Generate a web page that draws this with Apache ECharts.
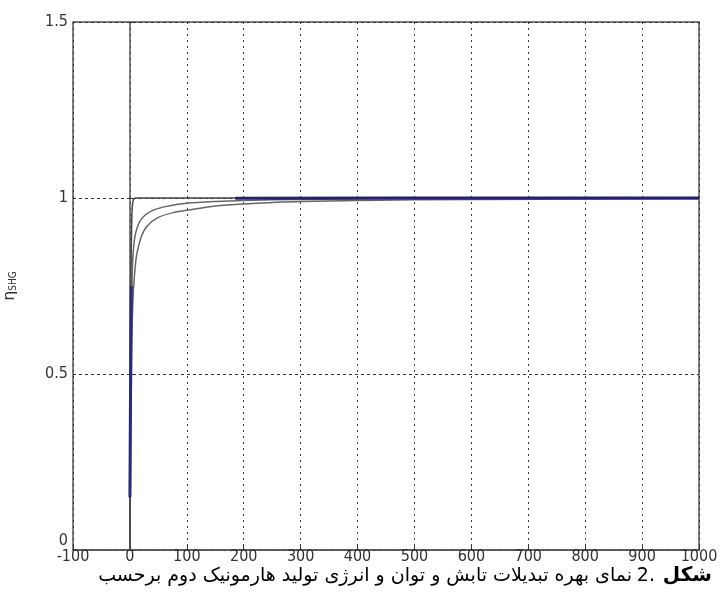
<!DOCTYPE html>
<html>
<head>
<meta charset="utf-8">
<script src="https://cdn.jsdelivr.net/npm/echarts@6/dist/echarts.min.js"></script>
<style>html,body{margin:0;padding:0;background:#fff;}#c{width:720px;height:596px;}</style>
</head>
<body>
<div id="c"></div>
<script>
// Tick labels
const xTicks = [-100, 0, 100, 200, 300, 400, 500, 600, 700, 800, 900, 1000];
const yTicks = [0, 0.5, 1, 1.5];

// Curve 1 (fastest, reaches 1 almost immediately)
const c1X = [0, 1, 2, 3, 4, 6, 10, 1000];
const c1Y = [0, 0.55, 0.8, 0.92, 0.97, 0.995, 1, 1];
// Curve 2
const c2X = [0, 2, 4, 6, 10, 20, 40, 70, 100, 150, 200, 300, 500, 1000];
const c2Y = [0, 0.6, 0.78, 0.85, 0.9, 0.94, 0.965, 0.978, 0.985, 0.99, 0.993, 0.996, 0.998, 1];
// Curve 3 (slowest)
const c3X = [0, 3, 5, 8, 12, 20, 30, 50, 80, 100, 150, 200, 300, 500, 1000];
const c3Y = [0, 0.55, 0.7, 0.78, 0.84, 0.89, 0.92, 0.945, 0.96, 0.965, 0.977, 0.983, 0.99, 0.995, 0.998];
// Blue traces
const b1X = [0, 0.5, 1.5, 2.5];
const b1Y = [0.15, 0.3, 0.55, 0.75];
const b2X = [185, 470, 530, 1000];
const b2Y = [0.999, 1, 1, 1];

const zip = (xs, ys) => xs.map((x, i) => [x, ys[i]]);

const captionBold = 'شکل';
const captionNum = '2.';
const captionRest = 'نمای بهره تبدیلات تابش و توان و انرژی تولید هارمونیک دوم برحسب';

const chart = echarts.init(document.getElementById('c'));
const FONT = '"DejaVu Sans Condensed", "Liberation Sans Narrow", "Liberation Sans", Arial, sans-serif';
const labelFont = {fontFamily: FONT, fontSize: 16, color: '#333'};
chart.setOption({
  animation: false,
  grid: {left: 73, right: 21, top: 22, bottom: 46, containLabel: false, outerBoundsMode: 'none', show: true, borderColor: '#555', borderWidth: 1.5, backgroundColor: '#fff'},
  xAxis: {
    type: 'value', min: -100, max: 1000, interval: 100,
    axisLine: {show: true, lineStyle: {color: '#555', width: 1.5}},
    axisTick: {show: true, inside: true, length: 5, lineStyle: {color: '#333'}},
    axisLabel: Object.assign({margin: -1, formatter: v => String(v)}, labelFont),
    splitLine: {show: true, lineStyle: {color: '#333', type: [2, 4], width: 1}}
  },
  yAxis: {
    type: 'value', min: 0, max: 1.5, interval: 0.5,
    name: '{e|η}{s|SHG}', nameLocation: 'middle', nameGap: 55, nameRotate: 90,
    nameTextStyle: {rich: {e: {fontSize: 16, color: '#333', fontFamily: 'DejaVu Sans'}, s: {fontSize: 10, color: '#333', fontFamily: FONT, verticalAlign: 'bottom', padding: [6, 0, 0, 0]}}},
    axisLine: {show: true, lineStyle: {color: '#555', width: 1.5}},
    axisTick: {show: true, inside: true, length: 5, lineStyle: {color: '#333'}},
    axisLabel: Object.assign({margin: 5, formatter: v => v === 0 ? '{z|0}' : String(v), rich: {z: Object.assign({padding: [0, 0, 18, 0]}, labelFont)}}, labelFont),
    splitLine: {show: true, lineStyle: {color: '#333', type: [3, 3], width: 1}}
  },
  series: [
    {type: 'line', data: zip(c3X, c3Y), showSymbol: false, smooth: 0.3, lineStyle: {color: '#666', width: 1.5}},
    {type: 'line', data: zip(c2X, c2Y), showSymbol: false, smooth: 0.3, lineStyle: {color: '#666', width: 1.5}},
    {type: 'line', data: zip(c1X, c1Y), showSymbol: false, smooth: 0.2, lineStyle: {color: '#444', width: 1.5}},
    {type: 'line', data: zip(b1X, b1Y), showSymbol: false, lineStyle: {color: '#2a2a80', width: 3}},
    {type: 'line', data: zip(b2X, b2Y), showSymbol: false, lineStyle: {color: '#22226e', width: 3}}
  ],
  graphic: [
    {type: 'text', right: 8, top: 566, style: {text: captionBold, font: 'bold 20px "DejaVu Sans"', fill: '#000'}},
    {type: 'text', right: 65, top: 567, style: {text: captionNum, font: '19px "DejaVu Sans"', fill: '#000'}},
    {type: 'text', right: 88, top: 567, style: {text: captionRest, font: '19px "DejaVu Sans"', fill: '#000'}}
  ]
});
</script>
</body>
</html>
